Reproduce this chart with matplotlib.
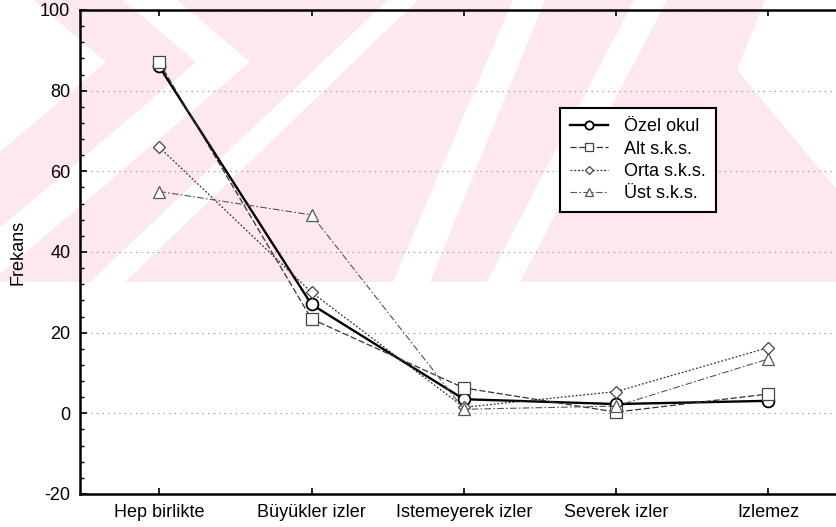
import numpy as np
import matplotlib.pyplot as plt
from matplotlib.patches import Polygon

plt.rcParams['font.family'] = ['Liberation Sans', 'DejaVu Sans']
plt.rcParams['axes.unicode_minus'] = False

# categories and series
kategoriler = ["Hep birlikte", "Büyükler izler", "Istemeyerek izler", "Severek izler", "Izlemez"]
ozel_okul = [86.0, 27.0, 3.5, 2.3, 3.1]
alt_sks = [87.0, 23.4, 6.3, 0.3, 4.8]
orta_sks = [66.0, 30.0, 1.5, 5.4, 16.3]
ust_sks = [55.0, 49.2, 1.0, 1.8, 13.5]

W, H = 837, 527
fig = plt.figure(figsize=(W / 100, H / 100), dpi=100)

# pale pink watermark in the top part of the page (pixel coords -> figure fraction)
def px(pts):
    return [(x / W, 1 - y / H) for x, y in pts]

pink = '#fde9ed'
fig.patches.append(Polygon(px([(0, 0), (W, 0), (W, 282), (0, 282)]), closed=True,
                           transform=fig.transFigure, fc=pink, ec='none', zorder=-2))
white_shapes = [
    [(0, 0), (33, 0), (106, 62), (0, 152)],
    [(123, 0), (177, 0), (250, 62), (0, 274), (0, 228), (196, 62)],
    [(388, 0), (418, 0), (125, 282), (90, 282)],
    [(513, 0), (545, 0), (430, 282), (393, 282)],
    [(634, 0), (667, 0), (520, 282), (487, 282)],
    [(765, 0), (837, 0), (837, 190), (737, 70)],
]
for s in white_shapes:
    fig.patches.append(Polygon(px(s), closed=True, transform=fig.transFigure,
                               fc='white', ec='none', zorder=-1))

ax = fig.add_axes([80 / W, 1 - 494 / H, 1 - 80 / W, (494 - 10) / H])
ax.set_facecolor('none')
ax.set_zorder(2)

x = np.arange(len(kategoriler))
ax.plot(x, ozel_okul, color='black', lw=1.7, ls='-', marker='o', ms=8.5,
        mfc='white', mec='black', mew=1.3, label='Özel okul')
ax.plot(x, alt_sks, color='#333333', lw=0.9, ls=(0, (5, 2)), marker='s', ms=8,
        mfc='white', mec='#444444', mew=0.9, label='Alt s.k.s.')
ax.plot(x, orta_sks, color='#333333', lw=0.9, ls=(0, (1.5, 1.5)), marker='D', ms=6.5,
        mfc='white', mec='#444444', mew=0.9, label='Orta s.k.s.')
ax.plot(x, ust_sks, color='#555555', lw=0.8, ls=(0, (6, 2, 1.5, 2)), marker='^', ms=8,
        mfc='white', mec='#555555', mew=0.9, label='Üst s.k.s.')

ax.set_xlim(-0.52, 4.45)
ax.set_ylim(-20, 100)
ax.set_xticks(x)
ax.set_xticklabels(kategoriler, fontsize=13)
ax.set_yticks([-20, 0, 20, 40, 60, 80, 100])
ax.set_yticks(np.arange(-20, 101, 4), minor=True)
ax.tick_params(axis='y', which='major', direction='in', length=5, width=1.2, labelsize=13, pad=7)
ax.tick_params(axis='y', which='minor', direction='in', length=3, width=1)
ax.tick_params(axis='x', which='major', direction='in', length=4, width=1.2, top=True, pad=7)
ax.set_ylabel('Frekans', fontsize=13, labelpad=10)

ax.grid(axis='y', ls=(0, (1, 4)), color='#888888', lw=0.8)
for s in ['left', 'bottom', 'top']:
    ax.spines[s].set_linewidth(1.8)
ax.spines['right'].set_visible(False)

leg = ax.legend(loc='upper left', bbox_to_anchor=(0.634, 0.797), fontsize=13,
                frameon=True, fancybox=False, edgecolor='black', framealpha=1,
                handlelength=2.1, handletextpad=0.9, labelspacing=0.3, borderpad=0.55,
                borderaxespad=0, markerscale=0.7)
leg.get_frame().set_linewidth(1.5)

fig.savefig('out.png', dpi=100)
